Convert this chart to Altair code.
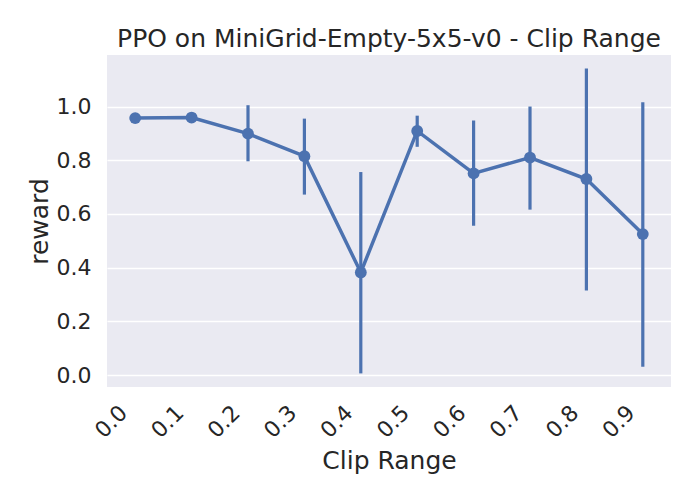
import altair as alt
import pandas as pd

clip = ["0.0", "0.1", "0.2", "0.3", "0.4", "0.5", "0.6", "0.7", "0.8", "0.9"]
mean = [0.957, 0.959, 0.899, 0.815, 0.382, 0.909, 0.751, 0.810, 0.730, 0.525]
lo = [0.957, 0.959, 0.796, 0.672, 0.006, 0.850, 0.556, 0.616, 0.315, 0.031]
hi = [0.957, 0.959, 1.005, 0.955, 0.756, 0.966, 0.948, 1.000, 1.142, 1.016]
y_ticks = [0.0, 0.2, 0.4, 0.6, 0.8, 1.0]

df = pd.DataFrame({"clip": clip, "mean": mean, "lo": lo, "hi": hi})

BLUE = "#4C72B0"
TXT = "#262626"
FONT = "DejaVu Sans"

x_axis = alt.Axis(labelAngle=315, labelAlign="right", labelBaseline="middle",
                  labelPadding=22, labelOffset=-12, ticks=False, tickSize=0,
                  domain=False, grid=False, labelFontSize=22, labelColor=TXT,
                  titleFontSize=25, titleColor=TXT, titleFontWeight="normal",
                  titleBaseline="alphabetic", titleY=81)
x = alt.X("clip:O", title="Clip Range", sort=clip,
          scale=alt.Scale(type="point", padding=0.5), axis=x_axis)

y_scale = alt.Scale(domain=[-0.0447, 1.192], nice=False, zero=False)
y_axis = alt.Axis(values=y_ticks, format=".1f", ticks=False, tickSize=0, domain=False,
                  gridColor="white", gridWidth=1.5, labelPadding=16, labelFontSize=22,
                  labelColor=TXT, titleFontSize=25, titleColor=TXT, titleFontWeight="normal",
                  titleX=-60, titleY=166, titleBaseline="alphabetic", titleAngle=270)

base = alt.Chart(df).encode(x=x)

rules = base.mark_rule(color=BLUE, strokeWidth=3.2).encode(
    y=alt.Y("lo:Q", title="reward", scale=y_scale, axis=y_axis),
    y2="hi:Q",
)
line = base.mark_line(color=BLUE, strokeWidth=3.5).encode(
    y=alt.Y("mean:Q", title="reward", scale=y_scale, axis=y_axis)
)
points = base.mark_circle(color=BLUE, size=140, opacity=1).encode(
    y=alt.Y("mean:Q", title="reward", scale=y_scale, axis=y_axis)
)

chart = alt.layer(rules, line, points).properties(
    width=564,
    height=332,
    autosize=alt.AutoSizeParams(type="none"),
    padding={"left": 99, "top": 47, "right": 21, "bottom": 105},
    title=alt.TitleParams("PPO on MiniGrid-Empty-5x5-v0 - Clip Range", fontSize=25,
                          font=FONT, fontWeight="normal", color=TXT, anchor="middle",
                          baseline="alphabetic", offset=8, dy=25, frame="group"),
).configure(font=FONT).configure_axis(
    labelFont=FONT, titleFont=FONT
).configure_view(fill="#EAEAF2", strokeWidth=0)

chart.save("out.html", embed_options={"renderer": "svg", "actions": False})
